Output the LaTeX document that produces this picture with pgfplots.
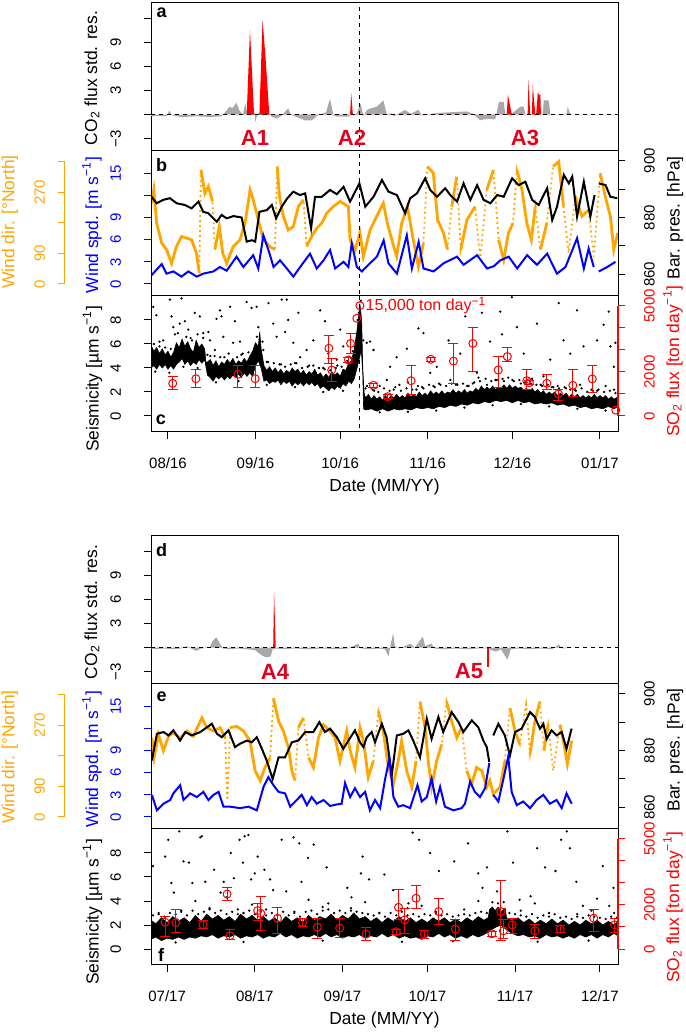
\documentclass[border=0pt]{standalone}
\usepackage{pgfplots}
\pgfplotsset{compat=1.18}
\usepackage{fontspec}
\setmainfont{Liberation Sans}
\definecolor{worange}{RGB}{255,165,0}
\definecolor{wblue}{RGB}{0,0,255}
\definecolor{ared}{RGB}{228,0,28}
\definecolor{cgrey}{RGB}{168,168,168}
\newcommand{\tickfont}{\fontsize{7.5}{9}\selectfont}
\newcommand{\labfont}{\fontsize{8.7}{10}\selectfont}
\pgfplotsset{
  base/.style={scale only axis, width=233.5pt, tick align=outside,
    major tick length=3.5pt, tick style={line width=0.5pt, black},
    tick label style={font=\tickfont}, axis line style={line width=0.5pt},
    xtick=\empty, ytick=\empty, scaled ticks=false, unbounded coords=jump},
  toprange/.style={xmin=-6, xmax=159.4},
  botrange/.style={xmin=-5.7, xmax=159.4},
  lefty/.style={ytick pos=left, yticklabel style={rotate=90, anchor=south}, yticklabel shift=8pt},
  righty/.style={axis y line*=right, axis x line=none, y axis line style={draw=none},
     yticklabel style={rotate=90, anchor=north}, yticklabel shift=6pt},
  hidden/.style={base, hide axis},
  pa/.style={base, height=74pt, ymin=-4.54, ymax=13.96, lefty, ytick={-3,0,3,6,9,12}, yticklabels={−3,,3,6,9,}},
  pbblue/.style={base, height=72.5pt, ymin=-1.626, ymax=18.02, lefty, ytick={0,3,6,9,12,15}, yticklabels={0,3,6,9,,15}, ytick style={wblue}, yticklabel style={wblue}},
  pbor/.style={hidden, height=72.5pt, ymin=-35.3, ymax=391.5},
  pbpr/.style={base, height=72.5pt, ymin=852.36, ymax=903.42, righty, ytick={860,870,880,890,900}, yticklabels={860,,880,,900}},
  orscale/.style={scale only axis, width=1pt, height=61.15pt, xmin=0, xmax=1, ymin=0, ymax=360,
     axis y line=left, axis x line=none, y axis line style={worange, line width=0.5pt, -},
     tick align=outside, major tick length=3.5pt, xtick=\empty, ytick={0,90,180,270,360}, yticklabels={0,90,,270,},
     ytick style={worange, line width=0.5pt}, tick label style={font=\tickfont},
     yticklabel style={worange, rotate=90, anchor=south}, yticklabel shift=3pt},
  pcseis/.style={base, height=68pt, ymin=-1.333, ymax=10, lefty, ytick={0,2,4,6,8}, yticklabels={0,2,4,6,8}, xtick pos=bottom, xticklabel shift=6pt},
  pcso/.style={base, height=68pt, ymin=-725, ymax=5440, righty, ytick={0,1000,2000,3000,4000,5000}, yticklabels={0,,2000,,,5000}, ytick style={red}, yticklabel style={red}},
  soline/.style={scale only axis, width=1pt, height=55.15pt, xmin=0, xmax=1, ymin=0, ymax=5000, axis y line=right, axis x line=none, xtick=\empty, ytick=\empty, y axis line style={red, line width=0.6pt, -}},
  dsh/.style={black, line width=0.5pt, dash pattern=on 2pt off 2pt},
  sop/.style={red, only marks, mark=o, mark size=2pt, line width=0.5pt,
     error bars/.cd, y dir=both, y explicit, error bar style={red, line width=0.5pt},
     error mark options={rotate=90, red, mark size=2.5pt, line width=0.5pt}},
  dots/.style={black, only marks, mark=*, mark size=0.35pt},
  ordot/.style={worange, line width=0.9pt, dash pattern=on 0.9pt off 1.6pt},
  orthick/.style={worange, line width=1.4pt},
}
\begin{document}
\begin{tikzpicture}
\useasboundingbox (0,0) rectangle (342.5pt,516pt);

%================ PANEL a =================
\begin{axis}[pa, toprange, at={(75.5pt,440.5pt)}]
\addplot[fill=cgrey, draw=none] coordinates {(-6,0) (-6,-0.2) (-3,-0.15) (-0.5,-0.2) (0.5,0.5) (1.5,-0.1) (5,-0.3) (10,-0.2) (15,-0.3) (19,-0.2) (20,0.2) (21.9,1.0) (22.8,0.8) (24.3,1.5) (25.2,0.6) (26.5,0.0) (27.4,1.4) (28,0.3) (30.8,0.2) (30.9,-0.9) (31.5,-0.2) (32.2,0.2) (36,0.1) (36.5,-0.2) (38.5,-0.5) (40,-0.2) (42.6,0.8) (43.5,0.0) (45,-0.2) (48.5,-0.7) (51,-0.7) (53,-0.1) (56,0.3) (57.4,2.0) (58.6,-0.1) (60,-0.25) (64,-0.25) (65,0.2) (66.5,-0.1) (68.3,1.4) (69.2,-0.2) (70.5,0.6) (72,0.8) (74,1.0) (76.3,1.8) (77.5,0.0) (79,0.2) (80,-0.2) (84,0.6) (86,0.1) (88.7,0.6) (90,-0.1) (95,0.2) (100,0.3) (105.9,0.4) (108,0.1) (110.6,-0.7) (113,-0.5) (115.9,-0.6) (116.5,0.3) (117.2,1.6) (118.9,1.6) (119.5,0.0) (122,0.2) (124.8,1.0) (126,1.0) (126.6,0.0) (132.8,0.0) (133.1,1.8) (134.8,1.8) (135.5,0.0) (141.2,0.1) (141.6,1.0) (142.2,0.3) (143,0)};
\addplot[fill=red, draw=none] coordinates {(27.9,0) (29.05,10.6) (30.5,0) (32.4,0) (33.5,11.8) (34.5,7.5) (35.9,0) (64.5,0) (64.9,2.7) (65.5,0) (120.0,0) (120.4,2.5) (121.8,0) (127.4,0) (127.7,4.3) (128.3,0) (128.9,0) (129.2,3.7) (130.1,0) (130.4,0) (131.0,2.8) (131.5,2.4) (131.9,2.6) (132.1,0)};
\addplot[dsh] coordinates {(-6,0) (159.4,0)};
\addplot[dsh] coordinates {(68,-10) (68,20)};
\end{axis}

%================ PANEL b =================
\begin{axis}[pbor, toprange, at={(75.5pt,368pt)}]
\addplot[ordot] coordinates {(-5.8,238)(-5.0,277)(-4.0,179)(-2.2,120)(-0.5,101)(1.3,61)(3.0,110)(4.8,140)(6.6,135)(8.4,130)(10.1,91)(11.1,32)(11.7,336)(13.1,267)(14.3,287)(15.8,243)(16.6,101)(18.2,169)(19.4,91)(20.8,61)(23.1,110)(25.5,130)(27.3,179)(29.1,277)(30.2,248)(32.0,189)(33.8,130)(36.1,110)(37.9,101)(38.7,346)(39.5,257)(40.9,199)(42.6,159)(44.4,169)(46.2,228)(48.0,248)(49.1,110)(50.9,140)(52.7,164)(54.5,179)(56.2,208)(58.6,228)(61.0,243)(63.9,228)(64.5,130)(66.3,101)(68.0,150)(69.2,81)(71.6,159)(73.9,199)(76.3,238)(77.7,179)(79.3,130)(81.0,81)(82.8,179)(84.8,228)(86.9,130)(88.7,51)(90.5,120)(91.9,346)(94.0,326)(95.5,189)(97.6,150)(99.0,101)(100.5,228)(102.3,316)(103.7,101)(105.9,189)(108.8,228)(110.6,71)(112.9,277)(115.3,336)(117.1,130)(118.9,71)(120.6,150)(122.2,179)(123.6,336)(125.4,277)(127.1,179)(128.7,130)(130.1,228)(131.9,101)(134.2,179)(136.4,346)(138.4,360)(140.1,228)(141.9,91)(144.3,257)(146.6,199)(149.0,218)(150.8,81)(153.1,326)(154.9,257)(156.7,199)(157.9,101)(159.3,150)};
\addplot[orthick] coordinates {(-5.8,238)(-5.0,277)(-4.0,179)(-2.2,120)(-0.5,101)(1.3,61)(3.0,110)(4.8,140)(6.6,135)(8.4,130)(10.1,91)(11.1,32)(11.4,nan)(11.7,336)(13.1,267)(14.3,287)(15.8,243)(16.2,nan)(16.6,101)(18.2,169)(19.4,91)(20.8,61)(23.1,110)(25.5,130)(27.3,179)(29.1,277)(30.2,248)(32.0,189)(33.8,130)(36.1,110)(37.9,101)(38.3,nan)(38.7,346)(39.5,257)(40.9,199)(42.6,159)(44.4,169)(46.2,228)(48.0,248)(48.5,nan)(49.1,110)(50.9,140)(52.7,164)(54.5,179)(56.2,208)(58.6,228)(61.0,243)(63.9,228)(64.5,130)(66.3,101)(68.0,150)(69.2,81)(71.6,159)(73.9,199)(76.3,238)(77.7,179)(79.3,130)(81.0,81)(82.8,179)(84.8,228)(86.9,130)(88.7,51)(90.5,120)(91.2,nan)(91.9,346)(94.0,326)(95.5,189)(97.6,150)(99.0,101)(99.7,nan)(100.5,228)(102.3,316)(103.0,nan)(103.7,101)(105.9,189)(108.8,228)(109.7,nan)(110.6,71)(111.7,nan)(112.9,277)(115.3,336)(116.2,nan)(117.1,130)(118.9,71)(120.6,150)(122.2,179)(122.9,nan)(123.6,336)(125.4,277)(127.1,179)(128.7,130)(130.1,228)(131.0,nan)(131.9,101)(134.2,179)(135.3,nan)(136.4,346)(138.4,360)(140.1,228)(141.0,nan)(141.9,91)(143.1,nan)(144.3,257)(146.6,199)(149.0,218)(149.9,nan)(150.8,81)(152.0,nan)(153.1,326)(154.9,257)(156.7,199)(157.9,101)(159.3,150)};
\end{axis}
\begin{axis}[pbpr, toprange, at={(75.5pt,368pt)}]
\addplot[black, line width=1pt] coordinates {(-5.8,887.3)(-4.0,885)(-1.7,886.2)(0.7,886.8)(3.1,885)(6.0,884.4)(8.4,883.2)(10.8,885.6)(12.5,882)(14.3,881.5)(17.3,878.5)(19.0,880.9)(20.8,879.7)(23.2,880.5)(26.1,880)(27.9,871.5)(29.7,872)(30.9,871.5)(32.4,882)(35.0,882.6)(36.8,884.4)(38.3,879.7)(40.3,883.8)(42.3,886.8)(44.4,889.1)(46.8,887.9)(48.6,888.5)(50.7,876.2)(52.1,887.3)(54.5,887.3)(57.4,889.7)(59.8,888.2)(62.2,890.8)(64.5,885.6)(67.8,892)(69.9,883.8)(72.8,887.3)(75.8,893.2)(78.1,889.1)(81.1,887.9)(84.0,881.5)(85.8,886.8)(88.2,888.5)(91.1,893.8)(92.9,889.7)(95.3,887.3)(98.2,890.3)(100,887.9)(102.4,885.6)(104.7,892)(107.1,886.2)(109.5,891.4)(111.8,886.2)(114.2,885)(116.6,887.9)(118.9,887.3)(121.9,893.8)(124.2,891.4)(126.6,892.6)(129.0,886.2)(131.3,884.4)(134.3,890.3)(136.1,879.1)(137.8,883.8)(140.2,895)(142.0,892)(143.2,894.4)(144.9,880.3)(147.3,892.6)(149.6,880.3)(151.1,887.9)(151.9,nan)(152.6,892)(155.0,891.4)(156.7,887.3)(159.1,886.8)};
\end{axis}
\begin{axis}[pbblue, toprange, at={(75.5pt,368pt)}]
\addplot[wblue, line width=1pt] coordinates {(-5.8,1.2)(-2.2,2.7)(-0.5,1.4)(1.9,1.7)(4.8,1.0)(7.2,1.7)(10.2,1.0)(12.5,1.4)(16.1,1.7)(18.4,2.3)(20.8,1.8)(24.3,3.7)(26.7,2.3)(30.2,3.9)(32.0,2.1)(33.8,6.6)(35.6,4.6)(37.4,2.3)(39.7,3.2)(42.1,2.1)(44.4,1.0)(47.4,2.6)(50.3,4.1)(52.7,2.1)(55.1,3.2)(57.4,4.6)(59.2,2.1)(62.2,3.0)(63.9,2.3)(65.1,5.5)(66.9,2.3)(68.7,1.7)(71.0,2.6)(74.0,3.7)(76.4,5.9)(78.1,2.8)(81.1,1.4)(84.6,6.6)(86.4,2.1)(88.8,5.7)(90.5,2.1)(94.1,1.7)(97.6,2.8)(102.4,3.7)(104.7,2.6)(109.5,3.9)(113.0,2.1)(115.4,2.4)(117.7,3.2)(120.7,3.7)(123.7,2.1)(127.2,3.9)(130.7,2.6)(134.3,4.1)(137.8,1.4)(140.8,2.3)(144.9,6.2)(147.3,2.1)(149.0,4.8)(150.8,2.3)(151.9,nan)(152.6,1.7)(155.6,2.3)(158.5,3.0)};
\addplot[dsh] coordinates {(68,-10) (68,30)};
\end{axis}
\begin{axis}[orscale, at={(32.5pt,374pt)}]
\end{axis}

%================ PANEL c =================
\begin{axis}[pcseis, toprange, at={(75.5pt,300pt)}, xtick={0,31,61,92,122,153}, xticklabels={08/16,09/16,10/16,11/16,12/16,01/17}]
\addplot[fill=black, draw=black, line width=0.3pt] coordinates {(-6,5.9)(-5,5.4)(-4,5.7)(-3,5.2)(-2,5.6)(-1,5.1)(0,5.4)(1,4.9)(2,5.3)(3,6.1)(4,5.7)(5,6.4)(6,5.8)(7,6.2)(8,5.6)(9,5.3)(10,6.3)(11,5.7)(12,6.0)(13,5.6)(13.5,4.4)(15,4.7)(16,4.2)(17,4.6)(18,4.1)(19,4.5)(20,4.3)(21,4.7)(22,4.4)(23,4.8)(24,4.3)(25,4.6)(26,4.4)(27,4.8)(28,4.5)(29,5.0)(30,5.4)(31,6.1)(32,5.8)(32.5,7.0)(33,5.6)(34,4.2)(35,3.8)(36,4.1)(37,3.7)(38,4.0)(39,3.6)(40,3.9)(41,3.5)(42,3.8)(43,3.6)(44,4.0)(45,3.7)(46,3.9)(47,3.5)(48,3.8)(49,3.4)(50,3.7)(51,3.5)(52,3.9)(53,3.4)(54,3.6)(55,3.2)(56,3.5)(57,3.2)(58,3.7)(59,3.4)(60,3.6)(61,3.3)(62,3.9)(63,3.8)(64,4.4)(65,4.6)(66,5.6)(67,7.2)(68,9.3)(68.6,8.0)(69,4.0)(69.5,1.9)(70,1.5)(71,1.8)(72,1.4)(73,1.7)(74,1.4)(75,1.6)(76,1.3)(77,1.7)(78,1.4)(79,1.7)(80,1.5)(81,1.8)(82,1.5)(83,1.7)(84,1.5)(85,1.9)(86,1.6)(87,1.8)(88,1.6)(89,2.0)(90,1.7)(91,1.9)(92,1.7)(93,2.1)(94,1.8)(95,2.0)(96,1.8)(97,2.1)(98,1.8)(99,2.0)(100,1.9)(101,2.2)(102,1.9)(103,2.1)(104,1.9)(105,2.2)(106,1.9)(107,2.1)(108,2.0)(109,2.3)(110,2.1)(111,2.5)(112,2.2)(113,2.4)(114,2.2)(115,2.5)(116,2.2)(117,2.4)(118,2.3)(119,2.6)(120,2.3)(121,2.6)(122,2.3)(123,2.5)(124,2.3)(125,2.4)(126,2.2)(127,2.3)(128,2.1)(129,2.3)(130,2.0)(131,2.2)(132,1.9)(133,2.1)(134,1.8)(135,2.0)(136,1.8)(137,2.0)(138,1.7)(139,1.9)(140,1.7)(141,1.9)(142,1.6)(143,1.8)(144,1.6)(145,1.8)(146,1.5)(147,1.7)(148,1.5)(149,1.7)(150,1.5)(151,1.8)(152,1.5)(153,1.7)(154,1.5)(155,1.7)(156,1.4)(157,1.6)(158,1.4)(159.4,1.6)(159.4,0.8)(158,0.6)(156,0.8)(154,0.6)(152,0.7)(150,0.6)(148,0.8)(146,0.7)(144,0.9)(142,0.8)(140,1.0)(138,0.9)(136,1.1)(134,1.0)(132,1.1)(130,1.0)(128,1.2)(126,1.1)(124,1.3)(122,1.1)(120,1.3)(118,1.2)(116,1.3)(114,1.1)(112,1.2)(110,1.0)(108,1.1)(106,0.9)(104,1.0)(102,0.8)(100,0.9)(98,0.7)(96,0.8)(94,0.6)(92,0.7)(90,0.6)(88,0.7)(86,0.5)(84,0.6)(82,0.5)(80,0.6)(78,0.4)(76,0.6)(74,0.4)(72,0.6)(70,0.5)(69.3,0.6)(69,3.5)(68.5,5.5)(67.5,4.5)(66,3.1)(65,2.7)(64,2.9)(63,2.5)(62,2.7)(61,2.3)(60,2.5)(59,2.2)(58,2.4)(57,2.1)(56,2.3)(55,2.5)(54,2.3)(53,2.7)(52,2.5)(51,2.8)(50,2.6)(49,2.8)(48,2.5)(47,2.8)(46,2.6)(45,2.8)(44,2.5)(43,2.9)(42,2.7)(41,2.9)(40,2.6)(39,3.0)(38,2.8)(37,2.9)(36,2.7)(35,3.0)(34,2.9)(33,4.0)(32,4.6)(31,4.2)(30,3.3)(29,3.6)(28,3.3)(27,3.6)(26,3.2)(25,3.5)(24,3.2)(23,3.4)(22,3.1)(21,3.3)(20,3.0)(19,3.3)(18,3.1)(17,3.3)(16,2.9)(15,3.2)(14,3.4)(13,4.7)(12,4.4)(11,4.7)(10,4.3)(9,4.5)(8,4.2)(7,4.6)(6,4.3)(5,4.8)(4,4.5)(3,4.3)(2,3.9)(1,4.2)(0,3.9)(-1,4.3)(-2,4.0)(-3,4.3)(-4,3.9)(-5,4.2)(-6,4.0)};
\addplot[dots] coordinates {(-5.2,9.1)(-4.1,8.4)(-1.7,6.3)(0.7,9.7)(1.3,8.3)(1.9,7.4)(4.8,9.8)(4.2,7.7)(6.0,7.9)(7.2,7.2)(9.5,8.6)(11.3,8.3)(12.5,6.9)(14.3,7.0)(14.9,6.3)(16.6,5.5)(17.2,8.1)(18.4,8.8)(19.0,8.3)(19.6,6.6)(22.0,9.1)(23.1,6.1)(23.7,7.9)(25.5,6.2)(27.9,9.5)(29.6,9.0)(31.4,9.1)(32.0,7.4)(33.8,5.5)(35.6,9.4)(37.3,7.7)(38.5,6.6)(40.3,9.7)(41.5,7.0)(42.1,9.7)(42.6,8.0)(44.4,6.1)(46.2,8.6)(46.8,4.9)(49.1,5.5)(51.5,6.3)(53.9,8.8)(55.6,7.9)(56.8,5.2)(59.8,4.7)(62.1,5.8)(61,7.2)(69.2,6.3)(70.4,6.1)(71.6,6.2)(72.8,5.5)(77.5,3.0)(78.7,4.1)(81,4.9)(84.6,5.6)(88.7,7.3)(90.5,6.9)(92.9,3.6)(95.2,4.1)(99.4,6.3)(103.5,5.2)(105.3,8.3)(109.4,3.6)(111.2,8.6)(114.1,6.2)(117.7,8.7)(118.3,6.8)(121.8,9.9)(123.6,7.4)(126,5.2)(130.7,7.7)(133,3.3)(135.4,4.7)(138.4,9.4)(140.1,6.3)(142.5,5.2)(144.9,8.8)(147.2,5.8)(152,6.3)(154.3,7.6)(156.1,8.7)(156.7,5.8)(158.5,6.1)(157.9,4.1)(75,2.5)(80,2.2)(85,2.8)(90,2.4)(96,2.7)(100,3.0)(106,2.5)(110,3.2)(113,2.6)(119,2.9)(125,2.7)(129,3.1)(136,2.4)(141,2.3)(146,2.6)(150,2.2)(155,2.5)(-3,6.2)(2.5,6.8)(8,6.5)(15,5.0)(20,4.9)(26,5.1)(35,4.5)(40,4.3)(45,4.4)(50,4.2)(55,4.0)(60,4.2)(65,4.8)(70,2.3)(73,2.1)(82,2.6)(88,2.2)(94,2.5)(102,2.6)(108,2.7)(116,3.0)(122,3.0)(127,2.8)(132,2.6)(138,2.5)(144,2.2)(152,2.1)(158,2.2)(-5,6.0)(-3,5.8)(-1,5.7)(1,5.6)(3.5,6.9)(6.5,6.6)(8.5,6.3)(10.5,6.8)(12.5,6.5)(14,5.1)(16.5,5.0)(18.5,4.9)(21.5,5.2)(24.5,4.9)(26.5,5.2)(28.5,5.3)(31.5,6.6)(33.5,6.2)(35.5,4.5)(37.5,4.4)(39.5,4.3)(41.5,4.1)(43.5,4.3)(45.5,4.4)(47.5,4.0)(49.5,4.1)(51.5,4.2)(53.5,4.0)(55.5,3.9)(57.5,3.8)(59.5,4.0)(61.5,4.1)(63.5,4.6)(65.5,5.4)(67.2,8.0)(67.6,8.6)(68.3,9.6)(70.5,2.5)(72.5,2.2)(74.5,2.0)(76.5,2.3)(78.5,2.1)(80.5,2.4)(82.5,2.1)(84.5,2.3)(86.5,2.2)(88.5,2.5)(90.5,2.3)(92.5,2.6)(94.5,2.4)(96.5,2.6)(98.5,2.5)(100.5,2.7)(102.5,2.6)(104.5,2.7)(106.5,2.5)(108.5,2.8)(110.5,2.9)(112.5,3.1)(114.5,2.9)(116.5,3.0)(118.5,3.1)(120.5,3.2)(122.5,2.9)(124.5,3.0)(126.5,2.8)(128.5,2.7)(130.5,2.6)(132.5,2.5)(134.5,2.6)(136.5,2.4)(138.5,2.3)(140.5,2.4)(142.5,2.2)(144.5,2.1)(146.5,2.3)(148.5,2.0)(150.5,2.1)(152.5,2.2)(154.5,2.0)(156.5,2.1)(158.5,1.9)(-4.5,3.7)(0.5,3.6)(5.5,4.1)(10.5,4.0)(17,2.8)(25,2.9)(35,2.6)(45,2.4)(55,2.0)(62,2.1)(75,0.3)(85,0.35)(95,0.45)(105,0.7)(115,0.9)(125,1.0)(135,0.8)(145,0.6)(155,0.45)};
\addplot[dsh] coordinates {(68,-5) (68,15)};
\end{axis}
\begin{axis}[pcso, toprange, at={(75.5pt,300pt)}]
\addplot[sop] coordinates {
(1.7,1480) += (0,300) -= (0,270)
(9.9,1690) += (0,430) -= (0,410)
(24.8,1890) += (0,380) -= (0,610)
(30.9,1690) += (0,580) -= (0,410)
(57.0,3070) += (0,600) -= (0,680)
(58.0,2085) += (0,535) -= (0,530)
(63.9,2540) += (0,100) -= (0,100)
(64.7,3290) += (0,430) -= (0,450)
(72.8,1390) += (0,100) -= (0,100)
(77.8,875) += (0,80) -= (0,80)
(86.1,1600) += (0,680) -= (0,615)
(93.1,2570) += (0,100) -= (0,100)
(101.1,2490) += (0,800) -= (0,1010)
(108.0,3290) += (0,710) -= (0,1280)
(117.0,2085) += (0,605) -= (0,785)
(120.2,2690) += (0,410) -= (0,230)
(127.1,1600) += (0,520) -= (0,420)
(128.0,1510) += (0,80) -= (0,80)
(134.2,1480) += (0,380) -= (0,300)
(138.3,1000) += (0,180) -= (0,275)
(143.4,1390) += (0,695) -= (0,515)
(150.3,1680) += (0,590) -= (0,605)
};
\addplot[red, only marks, mark=o, mark size=2pt, line width=0.5pt] coordinates {(66.9,4430)(68.0,5000)(158.6,270)};
\node[red, anchor=west, font=\fontsize{8}{9}\selectfont, inner sep=1pt] at (axis cs:69.2,5000) {15,000 ton day\textsuperscript{−1}};
\end{axis}
\begin{axis}[soline, at={(308pt,308pt)}]
\end{axis}

%================ PANEL d =================
\begin{axis}[pa, botrange, at={(75.5pt,174pt)}]
\addplot[fill=cgrey, draw=none] coordinates {(-5.7,0)(-5.7,-0.1)(-4,-0.2)(-1,-0.1)(2,-0.2)(5,-0.1)(7,0.2)(8.5,-0.1)(10.4,-0.4)(12,-0.1)(15,0.0)(16,0.8)(17.4,1.3)(18.5,0.6)(19.7,-0.1)(22,-0.2)(25,-0.1)(28,-0.2)(31,-0.3)(33.6,-1.0)(35,-1.2)(36.6,-1.1)(37.3,-0.2)(38.5,-0.1)(41,-0.2)(45,-0.1)(50,-0.2)(55,-0.1)(60,-0.2)(64,-0.1)(67.5,0.5)(68.5,-0.1)(72,-0.2)(75,-0.1)(77,-0.2)(78.3,-1.1)(78.8,0.0)(79.9,1.8)(80.5,0.2)(82,-0.1)(86,0.5)(87.5,0.0)(89.1,0.75)(90.4,1.4)(91.2,0.2)(93.5,0.5)(94.5,-0.1)(98,-0.2)(102,-0.1)(106,-0.2)(110,-0.1)(113,-0.1)(116.2,-0.5)(118,-0.2)(120.3,-1.5)(121.5,-0.2)(124,-0.1)(128,-0.2)(132,-0.1)(136,-0.2)(138.5,0.4)(139.5,-0.1)(143.2,0)};
\addplot[fill=red, draw=none] coordinates {(37.5,0)(37.8,7.0)(38.4,0)};
\addplot[red, line width=0.8pt] coordinates {(113.4,0)(113.4,-2.4)};
\addplot[dsh] coordinates {(-5.7,0) (159.4,0)};
\end{axis}

%================ PANEL e =================
\begin{axis}[pbor, botrange, at={(75.5pt,101.5pt)}]
\addplot[ordot] coordinates {(-5.4,233)(-4.6,175)(-3.1,243)(-1.3,195)(0.5,238)(2.2,248)(4.6,233)(7.0,253)(9.3,238)(12.3,292)(14.0,263)(16.4,253)(18.7,263)(20.5,233)(21.3,49)(22.3,263)(24.6,267)(27.0,253)(29.3,224)(31.1,136)(32.9,107)(34.6,146)(36.4,175)(37.6,350)(39.4,282)(41.1,253)(42.9,204)(44.1,136)(45.2,107)(46.4,263)(48.2,292)(50.0,175)(51.7,146)(53.5,233)(55.3,272)(57.6,253)(59.4,233)(61.1,165)(63.5,253)(64.7,195)(66.4,146)(68.2,263)(69.4,224)(71.1,117)(72.9,165)(74.7,311)(76.4,253)(78.2,146)(80.0,97)(81.7,165)(82.9,224)(84.7,136)(86.5,88)(88.0,165)(89.4,340)(91.2,263)(92.3,165)(93.5,88)(95.3,165)(97.1,214)(98.8,340)(100.6,282)(102.4,233)(104.1,263)(105.9,136)(107.7,97)(109.4,146)(111.2,136)(113.0,88)(114.1,107)(115.3,68)(117.7,88)(119.4,165)(121.2,321)(123.0,253)(124.7,214)(126.9,331)(128.3,185)(130.0,282)(131.8,340)(133.2,195)(134.7,272)(136.5,136)(138.9,272)(140.3,214)(141.5,156)(143.0,224)};
\addplot[orthick] coordinates {(-5.4,233)(-4.6,175)(-3.1,243)(-1.3,195)(0.5,238)(2.2,248)(4.6,233)(7.0,253)(9.3,238)(12.3,292)(14.0,263)(16.4,253)(18.7,263)(20.5,233)(20.9,nan)(21.3,49)(21.8,nan)(22.3,263)(24.6,267)(27.0,253)(29.3,224)(31.1,136)(32.9,107)(34.6,146)(36.4,175)(37.0,nan)(37.6,350)(39.4,282)(41.1,253)(42.9,204)(44.1,136)(45.2,107)(45.8,nan)(46.4,263)(48.2,292)(49.1,nan)(50.0,175)(51.7,146)(53.5,233)(55.3,272)(57.6,253)(59.4,233)(61.1,165)(63.5,253)(64.7,195)(66.4,146)(68.2,263)(69.4,224)(71.1,117)(72.9,165)(73.8,nan)(74.7,311)(76.4,253)(78.2,146)(80.0,97)(81.7,165)(82.9,224)(84.7,136)(86.5,88)(88.0,165)(88.7,nan)(89.4,340)(91.2,263)(92.3,165)(93.5,88)(95.3,165)(97.1,214)(98.0,nan)(98.8,340)(100.6,282)(102.4,233)(104.1,263)(105.0,nan)(105.9,136)(107.7,97)(109.4,146)(111.2,136)(113.0,88)(114.1,107)(115.3,68)(117.7,88)(119.4,165)(120.3,nan)(121.2,321)(123.0,253)(124.7,214)(125.8,nan)(126.9,331)(127.6,nan)(128.3,185)(130.0,282)(131.8,340)(132.5,nan)(133.2,195)(134.7,272)(135.6,nan)(136.5,136)(137.7,nan)(138.9,272)(140.3,214)(141.5,156)(143.0,224)};
\end{axis}
\begin{axis}[pbpr, botrange, at={(75.5pt,101.5pt)}]
\addplot[black, line width=1pt] coordinates {(-5.4,876.5)(-3.6,885.9)(-1.3,886.5)(0.5,885.3)(2.2,887.1)(4.6,883.5)(6.4,886.5)(8.7,885.3)(11.7,886.5)(13.4,887.7)(15.8,889.4)(17.6,885.9)(19.3,884.7)(21.7,887.1)(24.0,881.2)(25.8,882.4)(28.2,883.5)(29.9,882.9)(31.7,884.7)(33.5,880.6)(35.2,876.5)(37.3,870.0)(39.4,877.6)(41.7,877.6)(44.1,882.9)(46.4,883.5)(48.8,886.5)(51.7,886.5)(53.8,890.0)(55.8,886.5)(57.6,887.7)(60.0,884.7)(62.3,880.6)(64.1,883.5)(66.4,887.1)(68.2,882.9)(69.4,881.2)(70.6,884.7)(72.3,886.5)(73.5,882.9)(75.9,889.4)(77.6,884.7)(79.4,871.2)(81.2,885.3)(83.5,885.9)(85.3,887.1)(87.0,883.5)(89.4,877.6)(91.8,891.2)(93.5,884.1)(95.9,891.8)(97.6,886.5)(100.6,893.5)(103.0,890.0)(104.7,886.5)(107.7,890.6)(110.0,888.2)(111.8,883.5)(113.0,881.2)(113.9,875.9)(114.5,nan)(115.3,885.3)(117.1,889.4)(119.4,885.3)(121.2,878.2)(123.0,886.5)(125.3,887.7)(128.3,893.5)(130.0,891.8)(131.8,887.7)(133.0,889.4)(134.2,884.1)(135.9,887.1)(137.7,885.3)(139.5,886.5)(141.2,880.6)(143.0,887.7)};
\end{axis}
\begin{axis}[pbblue, botrange, at={(75.5pt,101.5pt)}]
\addplot[wblue, line width=1pt] coordinates {(-5.4,3.0)(-3.6,0.9)(-1.3,1.8)(1.1,2.3)(2.2,3.2)(4.6,4.3)(5.8,2.3)(8.1,3.2)(10.5,2.7)(12.8,3.4)(14.6,2.3)(16.4,3.0)(18.2,3.4)(19.9,1.4)(22.3,1.4)(25.8,1.2)(28.8,1.4)(31.7,0.9)(34.1,4.1)(35.8,5.4)(37.6,4.3)(39.4,3.4)(41.7,3.2)(43.5,1.4)(45.8,2.3)(47.6,3.0)(49.4,1.6)(51.1,2.7)(52.9,1.8)(55.3,2.3)(57.6,1.5)(60.0,1.7)(61.7,1.8)(62.9,4.6)(64.7,2.7)(66.4,3.9)(68.2,2.7)(70.0,3.4)(71.7,0.9)(73.5,2.3)(75.3,1.2)(77.0,5.0)(78.6,8.0)(80.0,2.7)(81.7,1.4)(83.5,1.6)(85.9,1.2)(88.5,4.3)(90.0,2.1)(91.8,2.7)(93.5,5.2)(95.1,2.1)(96.5,4.1)(98.2,1.4)(101.2,0.9)(104.1,1.2)(105.3,1.8)(107.1,4.8)(108.8,3.4)(110.6,2.7)(112.4,3.9)(113.9,7.3)(114.5,nan)(115.3,3.0)(117.1,2.1)(118.8,5.0)(120.6,8.2)(121.8,3.4)(123.6,1.6)(125.9,2.1)(128.3,1.2)(130.6,2.3)(133.0,3.0)(135.3,1.8)(137.7,2.3)(139.5,1.2)(141.2,3.2)(143.0,1.8)};
\end{axis}
\begin{axis}[orscale, at={(32.5pt,107.5pt)}]
\end{axis}

%================ PANEL f =================
\begin{axis}[pcseis, botrange, at={(75.5pt,33.5pt)}, xtick={0,31,62,92,123,153}, xticklabels={07/17,08/17,09/17,10/17,11/17,12/17}]
\addplot[fill=black, draw=black, line width=0.3pt] coordinates {(-5.7,2.4)(-4,2.1)(-2,2.6)(0,2.2)(2,2.7)(4,2.3)(6,2.6)(8,2.2)(10,2.8)(12,2.3)(14,2.9)(16,2.5)(18,2.8)(20,2.4)(22,2.7)(24,2.3)(26,2.9)(28,2.5)(30,2.8)(32,2.4)(34,2.7)(36,2.3)(38,2.6)(40,2.2)(42,2.7)(44,2.3)(46,2.6)(48,2.2)(50,2.8)(52,2.4)(54,2.7)(56,2.5)(58,2.9)(60,2.4)(62,2.8)(64,2.5)(66,3.0)(68,2.5)(70,2.7)(72,2.3)(74,2.6)(76,2.2)(78,2.6)(80,2.3)(82,2.7)(84,2.3)(86,2.6)(88,2.2)(90,2.5)(92,2.2)(94,2.6)(96,2.3)(98,2.6)(100,2.2)(102,2.5)(104,2.2)(106,2.6)(108,2.3)(110,2.7)(112,2.4)(113.5,2.6)(114,3.3)(115,3.5)(116,3.2)(117,3.5)(118,3.1)(119.5,3.4)(120,2.6)(122,2.4)(124,2.6)(126,2.2)(128,2.5)(130,2.1)(132,2.4)(134,2.1)(136,2.5)(138,2.1)(140,2.4)(142,2.0)(144,2.3)(146,2.0)(148,2.4)(150,2.1)(152,2.4)(154,2.0)(156,2.3)(158,2.0)(159.4,2.3)(159.4,1.1)(158,1.3)(156,1.0)(154,1.2)(152,0.9)(150,1.2)(148,1.0)(146,1.2)(144,0.9)(142,1.1)(140,0.9)(138,1.1)(136,1.0)(134,1.2)(132,0.9)(130,1.1)(128,1.0)(126,1.2)(124,1.1)(122,1.3)(120,1.6)(118,2.0)(116,1.8)(114,1.5)(112,1.2)(110,1.0)(108,1.2)(106,0.9)(104,1.1)(102,0.9)(100,1.2)(98,1.0)(96,1.3)(94,1.0)(92,1.1)(90,0.8)(88,1.0)(86,0.9)(84,1.1)(82,0.9)(80,1.2)(78,1.0)(76,1.3)(74,1.0)(72,1.1)(70,0.9)(68,1.2)(66,1.0)(64,1.1)(62,0.9)(60,1.2)(58,1.0)(56,1.3)(54,1.0)(52,1.2)(50,1.0)(48,1.1)(46,0.9)(44,1.2)(42,1.0)(40,1.3)(38,1.0)(36,1.1)(34,0.9)(32,1.2)(30,1.0)(28,1.1)(26,0.9)(24,1.2)(22,1.0)(20,1.1)(18,0.9)(16,1.2)(14,1.0)(12,1.1)(10,0.9)(8,1.0)(6,0.8)(4,1.0)(2,0.8)(0,0.9)(-2,0.7)(-4,1.0)(-5.7,0.8)};
\addplot[dots] coordinates {(-5.0,6.9)(-0.7,7.7)(0.4,9.1)(1.5,5.5)(2.4,4.7)(4.3,9.8)(5.8,7.3)(7.7,7.2)(8.9,5.5)(11.7,9.3)(12.3,9.4)(13.5,5.6)(16.6,6.6)(18.9,4.7)(20.0,5.6)(20.9,4.3)(22.5,8.0)(23.6,5.9)(25.6,9.1)(26.8,7.2)(27.4,9.4)(28.7,9.5)(29.7,5.8)(31.0,6.3)(32.0,7.7)(34.4,6.6)(36.4,5.8)(37.5,4.9)(40.5,9.1)(42.1,4.8)(44.7,9.3)(46.7,8.8)(47.5,5.6)(49.8,7.6)(51.8,8.7)(56.4,6.8)(57.0,3.8)(63.7,5.1)(65.2,4.3)(68.5,6.3)(69.1,7.7)(71.4,5.8)(76.8,6.2)(79.9,4.9)(85.3,3.8)(86.8,9.7)(89.1,9.1)(93.0,8.0)(96.1,6.5)(101.5,7.3)(106.4,8.8)(110,6.3)(111.5,5.1)(113.1,6.8)(116.6,4.8)(120.3,9.8)(122.3,7.2)(124.6,4.1)(128.5,4.4)(130.8,8.4)(133.6,6.8)(137.3,6.5)(139.3,9.1)(141.3,9.8)(142.4,8.4)(144.7,5.6)(147.0,3.6)(154,6.9)(156.3,3.6)(157.8,5.1)(-3,3.0)(5,3.2)(15,3.4)(25,2.9)(35,3.3)(45,3.1)(55,3.5)(65,3.2)(75,3.0)(85,3.4)(95,3.1)(105,3.3)(125,3.2)(135,3.0)(145,2.9)(150,3.2)(158,3.0)(10,4.0)(30,3.7)(50,4.1)(70,3.9)(90,3.6)(110,4.0)(130,3.8)(152,4.2)(-5,2.8)(-3,2.9)(-1,2.7)(1,3.0)(3,2.9)(5,3.1)(7,2.8)(9,3.2)(11,2.9)(13,3.1)(15,3.3)(17,3.0)(19,3.2)(21,2.9)(23,3.1)(25,3.3)(27,3.0)(29,3.2)(31,2.9)(33,3.1)(35,2.8)(37,3.0)(39,2.8)(41,3.1)(43,2.8)(45,3.0)(47,2.7)(49,3.1)(51,3.2)(53,2.9)(55,3.2)(57,3.3)(59,3.0)(61,3.2)(63,3.0)(65,3.4)(67,3.1)(69,3.0)(71,2.9)(73,2.8)(75,3.0)(77,2.7)(79,3.0)(81,2.8)(83,3.1)(85,2.8)(87,2.9)(89,2.7)(91,2.9)(93,2.8)(95,3.0)(97,2.8)(99,2.9)(101,2.7)(103,2.8)(105,2.9)(107,2.8)(109,3.0)(111,3.1)(113,3.0)(115,3.9)(117,3.8)(119,3.9)(121,3.0)(123,2.9)(125,2.8)(127,2.7)(129,2.9)(131,2.6)(133,2.8)(135,2.7)(137,2.9)(139,2.6)(141,2.7)(143,2.5)(145,2.7)(147,2.6)(149,2.8)(151,2.7)(153,2.6)(155,2.5)(157,2.7)(159,2.6)(3,0.55)(27,0.6)(55,0.7)(83,0.6)(101,0.65)(131,0.6)(149,0.7)};
\end{axis}
\begin{axis}[pcso, botrange, at={(75.5pt,33.5pt)}]
\addplot[sop] coordinates {
(-0.75,1216) += (0,254) -= (0,646)
(3.1,1200) += (0,600) -= (0,435)
(12.7,1095) += (0,205) -= (0,150)
(21.2,2490) += (0,300) -= (0,300)
(22.2,600) += (0,300) -= (0,180)
(32.0,1740) += (0,300) -= (0,450)
(33.1,1620) += (0,770) -= (0,780)
(39.0,1396) += (0,494) -= (0,706)
(47.9,1200) += (0,200) -= (0,180)
(53.1,990) += (0,410) -= (0,495)
(61.0,946) += (0,454) -= (0,406)
(70.3,675) += (0,315) -= (0,285)
(81.0,780) += (0,120) -= (0,120)
(81.8,1890) += (0,810) -= (0,570)
(84.0,1320) += (0,520) -= (0,630)
(88.0,2300) += (0,600) -= (0,450)
(90.9,675) += (0,165) -= (0,180)
(96.0,1695) += (0,605) -= (0,595)
(101.9,900) += (0,420) -= (0,510)
(114.8,690) += (0,110) -= (0,110)
(118.0,1695) += (0,1425) -= (0,1305)
(118.9,825) += (0,495) -= (0,330)
(122.0,1095) += (0,305) -= (0,405)
(130.0,825) += (0,270) -= (0,330)
(139.0,900) += (0,150) -= (0,150)
(150.8,1400) += (0,400) -= (0,605)
(158.2,1095) += (0,305) -= (0,345)
};
\end{axis}
\begin{axis}[soline, at={(308pt,41.5pt)}]
\end{axis}

%================ TEXT =================
\begin{scope}[font=\labfont]
\node[rotate=90] at (46pt,477pt) {CO\textsubscript{2} flux std. res.};
\node[rotate=90, wblue] at (46pt,403.5pt) {Wind spd. [m s\textsuperscript{−1}]};
\node[rotate=90, worange] at (5pt,405pt) {Wind dir. [°North]};
\node[rotate=90] at (46.25pt,326.5pt) {Seismicity [µm s\textsuperscript{−1}]};
\node[rotate=90] at (337.5pt,407pt) {Bar. pres. [hPa]};
\node[rotate=90, red] at (336.5pt,335.5pt) {SO\textsubscript{2} flux [ton day\textsuperscript{−1}]};
\node at (192.25pt,272.25pt) {Date (MM/YY)};
\node[rotate=90] at (46pt,210pt) {CO\textsubscript{2} flux std. res.};
\node[rotate=90, wblue] at (46pt,136.5pt) {Wind spd. [m s\textsuperscript{−1}]};
\node[rotate=90, worange] at (5pt,137.5pt) {Wind dir. [°North]};
\node[rotate=90] at (46.25pt,60pt) {Seismicity [µm s\textsuperscript{−1}]};
\node[rotate=90] at (337.5pt,141pt) {Bar. pres. [hPa]};
\node[rotate=90, red] at (336.5pt,62.5pt) {SO\textsubscript{2} flux [ton day\textsuperscript{−1}]};
\node at (192.25pt,6pt) {Date (MM/YY)};
\end{scope}
\begin{scope}[font=\bfseries\fontsize{9}{10}\selectfont]
\node at (80.85pt,509.65pt) {a};
\node at (80.85pt,433.5pt) {b};
\node at (80.5pt,306.35pt) {c};
\node at (80.8pt,241pt) {d};
\node at (80.85pt,167.65pt) {e};
\node at (80.5pt,38.5pt) {f};
\end{scope}
\begin{scope}[font=\bfseries\fontsize{11}{12}\selectfont, ared]
\node at (127.5pt,447pt) {A1};
\node at (176pt,447pt) {A2};
\node at (262.5pt,447pt) {A3};
\node at (137.5pt,180.25pt) {A4};
\node at (234.5pt,180.25pt) {A5};
\end{scope}
\end{tikzpicture}
\end{document}
